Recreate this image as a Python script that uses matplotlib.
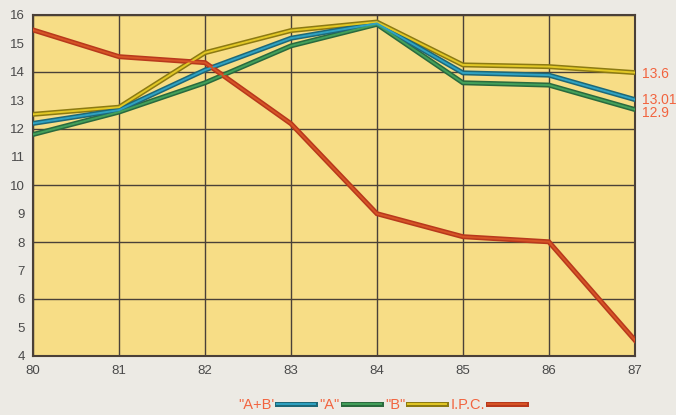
import matplotlib
matplotlib.use('Agg')
import matplotlib.pyplot as plt
from matplotlib.lines import Line2D
from matplotlib.legend_handler import HandlerTuple

years = [80, 81, 82, 83, 84, 85, 86, 87]
ab_vals = [12.18, 12.65, 14.06, 15.18, 15.70, 13.96, 13.88, 13.02]
a_vals = [11.79, 12.58, 13.61, 14.91, 15.67, 13.61, 13.53, 12.67]
b_vals = [12.50, 12.75, 14.67, 15.45, 15.75, 14.24, 14.18, 13.97]
ipc_vals = [15.47, 14.53, 14.32, 12.17, 9.00, 8.19, 8.01, 4.55]

end_labels = ['13.6', '13.01', '12.9']
end_label_y = [13.93, 13.02, 12.53]

LABEL_COLOR = '#F2643F'
GRID_COLOR = '#4A4038'

plt.rcParams['font.family'] = ['Liberation Sans', 'DejaVu Sans']

# (name, values, dark stripe, light stripe)
series = [
    ('"B"', b_vals, '#8C7A12', '#E2C826'),
    ('"A"', a_vals, '#2A6A3E', '#43A05A'),
    ('"A+B\'', ab_vals, '#1D6878', '#2FA2C2'),
    ('I.P.C.', ipc_vals, '#B8381C', '#D65426'),
]


def main():
    fig = plt.figure(figsize=(6.76, 4.15), dpi=100, facecolor='#ECEAE4')
    ax = fig.add_axes([0.049, 0.143, 0.890, 0.821])
    ax.set_facecolor('#F7DD86')

    handles = {}
    for name, vals, dark, light in series:
        ax.plot(years, vals, color=dark, lw=3.6, solid_joinstyle='miter', zorder=3)
        ax.plot(years, vals, color=light, lw=1.4, solid_joinstyle='miter', zorder=4)
        handles[name] = (Line2D([], [], color=dark, lw=3.6), Line2D([], [], color=light, lw=1.4))

    ax.set_xlim(80, 87)
    ax.set_ylim(4, 16)
    ax.set_xticks(years)
    ax.set_xticklabels([str(y) for y in years])
    ax.set_yticks(range(4, 17, 2))
    ax.set_yticks(range(5, 16, 2), minor=True)
    ax.set_yticklabels([str(v) for v in range(4, 17, 2)])
    ax.set_yticklabels([str(v) for v in range(5, 16, 2)], minor=True)
    ax.tick_params(which='both', length=0, labelsize=9.5, colors='#4A4A4A', pad=6)
    ax.tick_params(axis='x', pad=7)
    ax.grid(which='major', color=GRID_COLOR, lw=1.0)
    ax.set_axisbelow(True)
    for sp in ax.spines.values():
        sp.set_color(GRID_COLOR)
        sp.set_linewidth(1.5)

    for txt, yv in zip(end_labels, end_label_y):
        ax.annotate(txt, xy=(87, yv), xytext=(5, 0), textcoords='offset points',
                    color=LABEL_COLOR, fontsize=10, va='center', ha='left',
                    annotation_clip=False)

    order = ['"A+B\'', '"A"', '"B"', 'I.P.C.']
    leg = fig.legend([handles[n] for n in order], order, loc='lower center',
                     bbox_to_anchor=(0.565, -0.025), ncol=4, frameon=False,
                     markerfirst=False, handlelength=2.6, handletextpad=0.2,
                     columnspacing=0.3, fontsize=10.5,
                     handler_map={tuple: HandlerTuple(ndivide=1)})
    for t in leg.get_texts():
        t.set_color(LABEL_COLOR)

    fig.savefig('out.png', dpi=100, facecolor=fig.get_facecolor())


if __name__ == '__main__':
    main()
